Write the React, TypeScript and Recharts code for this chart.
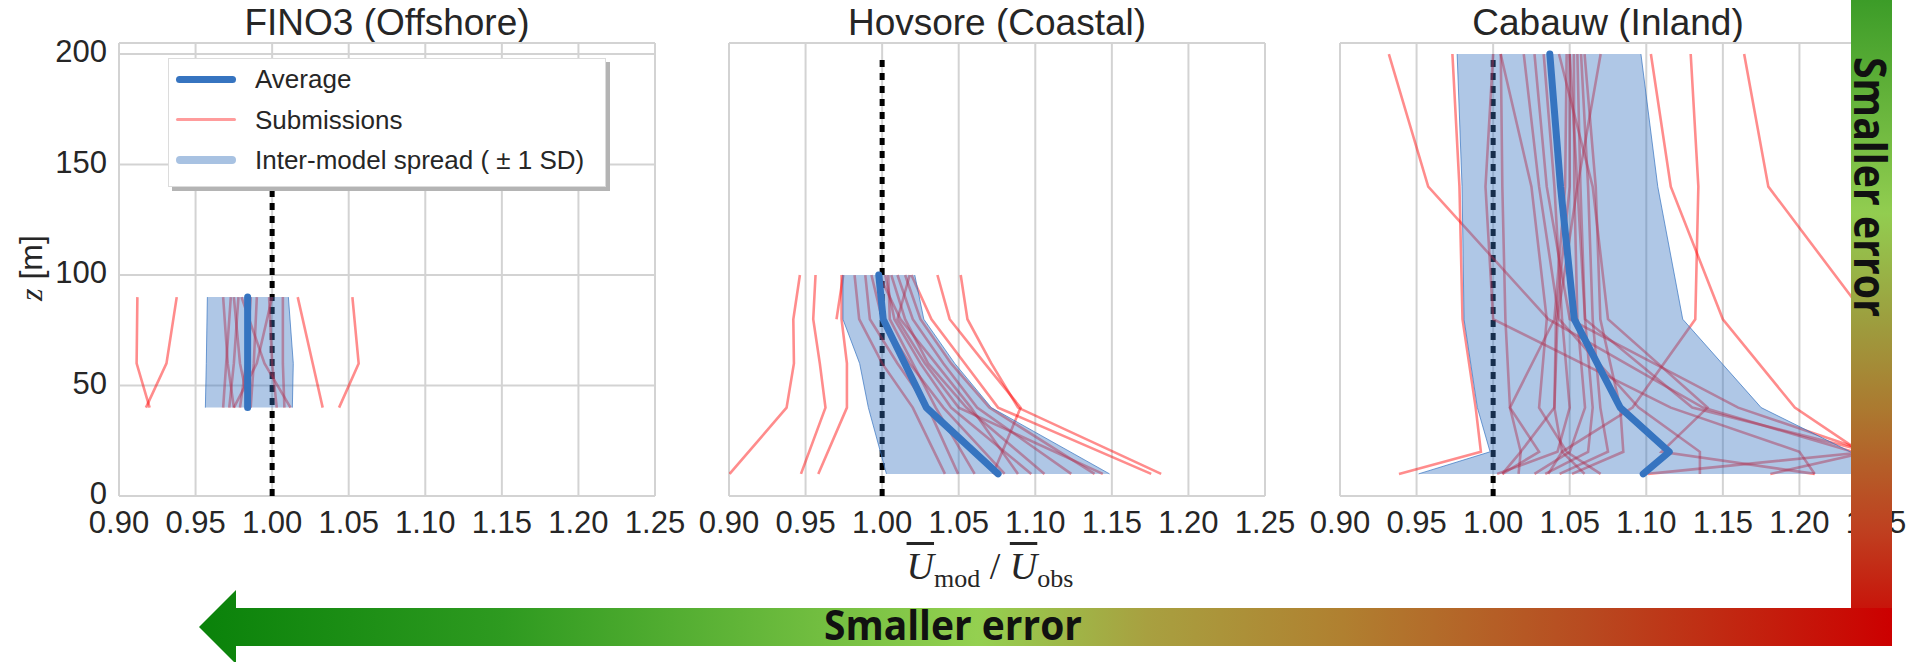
import React from 'react';
import { ComposedChart, Line, Area, XAxis, YAxis, CartesianGrid, ReferenceLine } from 'recharts';

// axis ticks shared by the three panels
const X_TICKS = [0.9, 0.95, 1.0, 1.05, 1.1, 1.15, 1.2, 1.25];
const Z_TICKS = [0, 50, 100, 150, 200];

// FINO3 (offshore) – heights 40, 60, 90 m
const finoZ = [40, 60, 90];
const finoMean = [0.984, 0.984, 0.984];
const finoLow = [0.9564, 0.957, 0.9577];
const finoHigh = [1.0132, 1.0138, 1.0106];
const finoRuns = [
  [0.92, 0.9115, 0.912],
  [0.9176, 0.931, 0.9377],
  [1.033, 1.0265, 1.0167],
  [1.0437, 1.0565, 1.0524],
  [0.975, 0.971, 0.968],
  [0.968, 0.97, 0.973],
  [0.985, 0.979, 0.975],
  [0.972, 0.975, 0.978],
  [0.979, 0.983, 0.986],
  [0.986, 0.988, 0.99],
  [0.975, 0.99, 1.0],
  [1.008, 1.007, 1.007],
  [1.012, 0.995, 0.98],
  [1.003, 1.0, 0.998],
];

// Hovsore (coastal) – heights 10, 40, 60, 80, 100 m
const hovZ = [10, 40, 60, 80, 100];
const hovMean = [1.0757, 1.0289, 1.0148, 1.0007, 0.9978];
const hovLow = [1.0028, 0.991, 0.9853, 0.9744, 0.9744];
const hovHigh = [1.1485, 1.0713, 1.0474, 1.0272, 1.0213];
const hovRuns = [
  [0.9004, 0.9376, 0.9424, 0.942, 0.9463],
  [0.947, 0.963, 0.9593, 0.955, 0.9565],
  [0.9583, 0.977, 0.977, 0.9735, 0.9735],
  [null, null, null, 0.9702, 0.9746],
  [1.0724, 1.0904, 1.067, 1.0441, 1.0361],
  [1.1822, 1.0887, 1.0713, 1.0557, 1.0513],
  [1.1757, 1.0757, 1.054, 1.0322, 1.0191],
  [1.041, 1.02, 1.0, 0.985, 0.982],
  [1.0496, 1.03, 1.01, 0.992, 0.989],
  [1.08, 1.04, 1.018, 1.0, 0.993],
  [1.0974, 1.045, 1.025, 1.008, 1.002],
  [1.106, 1.055, 1.03, 1.015, 1.006],
  [1.1235, 1.062, 1.04, 1.02, 1.01],
  [1.1387, 1.07, 1.045, 1.025, 1.015],
  [1.1441, 1.05, 1.028, 1.01, 1.018],
  [1.0887, 1.058, 1.035, 1.012, 0.998],
  [1.0604, 1.035, 1.02, 1.005, 1.004],
];

// Cabauw (inland) – heights 10, 20, 40, 80, 140, 200 m
const cabZ = [10, 20, 40, 80, 140, 200];
const cabMean = [1.098, 1.115, 1.083, 1.053, 1.044, 1.037];
const cabLow = [0.9513, 0.998, 0.9897, 0.981, 0.9797, 0.9765];
const cabHigh = [1.25, 1.2333, 1.175, 1.1238, 1.1075, 1.0965];
const cabRuns = [
  [1.245, 1.235, 1.137, 1.036, 0.9576, 0.9319],
  [0.9385, 0.992, 0.9886, 0.98, 0.978, 0.9734],
  [1.245, 1.24, 1.197, 1.15, 1.116, 1.103],
  [1.036, 1.045, 1.091, 1.132, 1.134, 1.129],
  [null, null, null, 1.245, 1.1797, 1.1639],
  [1.21, 1.2, 1.116, 1.0, 0.995, 1.0],
  [1.181, 1.245, 1.16, 1.05, 1.035, 1.027],
  [1.101, 1.245, 1.13, 1.06, 1.055, 1.05],
  [1.135, 1.135, 1.095, 1.043, 1.03, 1.02],
  [1.0026, 1.042, 1.05, 1.045, 1.04, 1.033],
  [1.006, 1.03, 1.011, 1.04, 1.047, 1.048],
  [1.0166, 1.018, 1.04, 1.041, 1.05, 1.05],
  [1.027, 1.05, 1.06, 1.055, 1.053, 1.0527],
  [1.034, 1.062, 1.065, 1.06, 1.057, 1.055],
  [1.0434, 1.075, 1.07, 1.065, 1.062, 1.0574],
  [1.0515, 1.085, 1.083, 1.07, 1.067, 1.0597],
  [1.0597, 1.045, 1.04, 1.042, 1.055, 1.0702],
  [1.0702, 1.048, 1.03, 1.035, 1.025, 1.0049],
  [1.21, 1.11, 1.14, 1.075, 1.065, 1.043],
  [1.006, 1.018, 1.011, 1.008, 1.006, 1.005],
];

const FONT = '"Liberation Sans", Arial, sans-serif';
const TEXT = '#262626';
const BLUE = '#3674c0';
const GRID = '#d3d3d3';

const buildRows = (z: number[], mean: number[], low: number[], high: number[], runs: (number | null)[][]) =>
  z.map((h, i) => {
    const row: any = { z: h, mean: mean[i], band: [low[i], high[i]] };
    runs.forEach((r, k) => {
      row['s' + k] = r[i];
    });
    return row;
  });

const panels = [
  { title: 'FINO3 (Offshore)', left: 119, rows: buildRows(finoZ, finoMean, finoLow, finoHigh, finoRuns), n: finoRuns.length, yTicks: true },
  { title: 'Hovsore (Coastal)', left: 729, rows: buildRows(hovZ, hovMean, hovLow, hovHigh, hovRuns), n: hovRuns.length, yTicks: false },
  { title: 'Cabauw (Inland)', left: 1340, rows: buildRows(cabZ, cabMean, cabLow, cabHigh, cabRuns), n: cabRuns.length, yTicks: false },
];

const PLOT_W = 536;
const PLOT_H = 453;
const TOP = 43;
const CHART_H = 560;

const tickStyle = { fontSize: 31, fill: TEXT, fontFamily: FONT };

// y tick labels sit a touch above their gridline, like the original
const ZTick = ({ x, y, payload }: any) => (
  <text x={x} y={y - 3} dy="0.355em" textAnchor="end" {...tickStyle}>
    {payload.value}
  </text>
);

// the same pair of axes for the base layer and the overlay layer
const axes = (showX: boolean, showY: boolean) => [
  <XAxis
    key="x"
    type="number"
    domain={[0.9, 1.25]}
    ticks={X_TICKS}
    interval={0}
    allowDataOverflow
    height={CHART_H - TOP - PLOT_H}
    axisLine={false}
    tickLine={false}
    tickMargin={9}
    tickFormatter={(v: number) => v.toFixed(2)}
    tick={showX ? tickStyle : false}
  />,
  <YAxis
    key="y"
    type="number"
    dataKey="z"
    reversed
    domain={[0, 205]}
    ticks={Z_TICKS}
    interval={0}
    allowDataOverflow
    width={100}
    axisLine={false}
    tickLine={false}
    tickMargin={6}
    tick={showY ? <ZTick /> : false}
  />,
];

const chartProps = (rows: any[]) => ({
  layout: 'vertical' as const,
  width: PLOT_W + 140,
  height: CHART_H,
  data: rows,
  margin: { top: TOP, right: 40, bottom: 0, left: 0 },
});

const Panel = ({ rows, n, left, yTicks }: any) => {
  const keys = Array.from({ length: n }, (_, k) => 's' + k);
  return (
    <>
      {/* base layer: grid, reference, submissions */}
      <div style={{ position: 'absolute', left: left - 100, top: 0 }}>
        <ComposedChart {...chartProps(rows)}>
          <CartesianGrid stroke={GRID} strokeWidth={2} />
          {axes(true, yTicks)}
          <ReferenceLine y={205} stroke={GRID} strokeWidth={2} />
          <ReferenceLine
            segment={[{ x: 1, y: 0 }, { x: 1, y: 200 }]}
            stroke="#000"
            strokeWidth={5}
            strokeDasharray="7 6"
          />
          {keys.map((k) => (
            <Line
              key={k}
              dataKey={k}
              stroke="#ff0000"
              strokeOpacity={0.45}
              strokeWidth={2.6}
              dot={false}
              activeDot={false}
              isAnimationActive={false}
            />
          ))}
        </ComposedChart>
      </div>
      {/* overlay layer: spread band and average on top */}
      <div style={{ position: 'absolute', left: left - 100, top: 0 }}>
        <ComposedChart {...chartProps(rows)}>
          {axes(false, false)}
          <Area
            dataKey="band"
            type="linear"
            fill={BLUE}
            fillOpacity={0.4}
            stroke={BLUE}
            strokeOpacity={0.7}
            strokeWidth={1}
            dot={false}
            activeDot={false}
            isAnimationActive={false}
          />
          <Line
            dataKey="mean"
            stroke={BLUE}
            strokeWidth={7}
            strokeLinecap="round"
            strokeLinejoin="round"
            dot={false}
            activeDot={false}
            isAnimationActive={false}
          />
        </ComposedChart>
      </div>
    </>
  );
};

const legendItems = [
  { label: 'Average', color: BLUE, width: 7 },
  { label: 'Submissions', color: '#ff9c9c', width: 3 },
  { label: 'Inter-model spread ( \u00b1 1 SD)', color: '#a8c2e2', width: 8 },
];

const App = () => {
  return (
    <div
      style={{
        position: 'absolute',
        left: 0,
        top: 0,
        width: 1915,
        height: 662,
        background: '#fff',
        overflow: 'hidden',
        fontFamily: FONT,
        color: TEXT,
      }}
    >
      {panels.map((p) => (
        <div
          key={p.title}
          style={{
            position: 'absolute',
            left: p.left - 100,
            width: PLOT_W + 200,
            top: 1,
            textAlign: 'center',
            fontSize: 37,
            lineHeight: '43px',
          }}
        >
          {p.title}
        </div>
      ))}
      {panels.map((p) => (
        <Panel key={p.title + '-chart'} {...p} />
      ))}

      {/* y label */}
      <div
        style={{
          position: 'absolute',
          left: 31,
          top: 268,
          transform: 'translate(-50%, -50%) rotate(-90deg)',
          whiteSpace: 'nowrap',
          fontSize: 32,
          lineHeight: '36px',
        }}
      >
        <span style={{ fontFamily: '"Liberation Serif", serif', fontStyle: 'italic' }}>z</span> [m]
      </div>

      {/* x label */}
      <div
        style={{
          position: 'absolute',
          left: 840,
          width: 300,
          top: 541,
          height: 50,
          lineHeight: '50px',
          textAlign: 'center',
          fontFamily: '"Liberation Serif", serif',
          fontSize: 38,
          whiteSpace: 'nowrap',
        }}
      >
        <span style={{ fontStyle: 'italic', textDecoration: 'overline' }}>U</span>
        <span style={{ fontSize: 26, verticalAlign: '-8px' }}>mod</span>
        <span> / </span>
        <span style={{ fontStyle: 'italic', textDecoration: 'overline' }}>U</span>
        <span style={{ fontSize: 26, verticalAlign: '-8px' }}>obs</span>
      </div>

      {/* legend */}
      <div
        style={{
          position: 'absolute',
          left: 168,
          top: 58,
          width: 438,
          height: 129,
          boxSizing: 'border-box',
          background: '#fff',
          border: '1px solid #dcdcdc',
          boxShadow: '4px 4px 0 #b4b4b4',
        }}
      >
        {legendItems.map((it, i) => (
          <div
            key={it.label}
            style={{ position: 'absolute', left: 0, top: 20 + i * 40.5 - 18, height: 36, width: 436 }}
          >
            <div
              style={{
                position: 'absolute',
                left: 7,
                top: 18 - it.width / 2,
                width: 60,
                height: it.width,
                borderRadius: it.width / 2,
                background: it.color,
              }}
            />
            <div
              style={{
                position: 'absolute',
                left: 86,
                top: 0,
                lineHeight: '36px',
                fontSize: 26,
                whiteSpace: 'nowrap',
              }}
            >
              {it.label}
            </div>
          </div>
        ))}
      </div>

      {/* "smaller error" arrows */}
      <svg width={1915} height={662} style={{ position: 'absolute', left: 0, top: 0, pointerEvents: 'none' }}>
        <defs>
          <linearGradient id="vgrad" x1="0" y1="0" x2="0" y2="1">
            <stop offset="0" stopColor="#3c9c28" />
            <stop offset="0.33" stopColor="#92cd50" />
            <stop offset="0.5" stopColor="#9d9d3e" />
            <stop offset="0.63" stopColor="#ab7a30" />
            <stop offset="0.82" stopColor="#bf4020" />
            <stop offset="1" stopColor="#cc0000" />
          </linearGradient>
          <linearGradient id="hgrad" x1="0" y1="0" x2="1" y2="0">
            <stop offset="0" stopColor="#0a820a" />
            <stop offset="0.18" stopColor="#2e9a20" />
            <stop offset="0.46" stopColor="#94d050" />
            <stop offset="0.56" stopColor="#a8a040" />
            <stop offset="0.675" stopColor="#b08030" />
            <stop offset="0.82" stopColor="#b84a20" />
            <stop offset="1" stopColor="#cc0000" />
          </linearGradient>
        </defs>
        <rect x={1851} y={0} width={41} height={646} fill="url(#vgrad)" />
        <polygon
          points="199,627 236,590 236,608 1892,608 1892,646 236,646 236,664"
          fill="url(#hgrad)"
        />
        <text
          x={1871}
          y={187}
          transform="rotate(90 1871 187)"
          textAnchor="middle"
          dominantBaseline="central"
          fontFamily='"Open Sans", sans-serif'
          fontWeight={700}
          fontSize={44}
          textLength={260}
          lengthAdjust="spacingAndGlyphs"
          fill="#111"
        >
          Smaller error
        </text>
        <text
          x={953}
          y={640}
          textAnchor="middle"
          fontFamily='"Open Sans", sans-serif'
          fontWeight={700}
          fontSize={41}
          textLength={258}
          lengthAdjust="spacingAndGlyphs"
          fill="#111"
        >
          Smaller error
        </text>
      </svg>
    </div>
  );
};

export default App;
